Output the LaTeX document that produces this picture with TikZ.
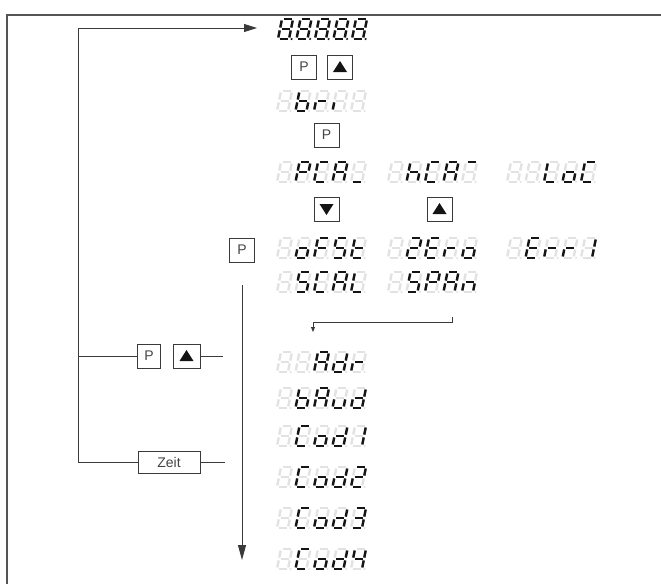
\documentclass[tikz,border=0pt]{standalone}
\usepackage{fontspec}
\setmainfont{Liberation Sans}
\usetikzlibrary{arrows.meta}
\definecolor{segonc}{HTML}{141414}
\definecolor{segoffc}{HTML}{E2E2E2}
\definecolor{linec}{HTML}{3A3A3A}
\definecolor{framec}{HTML}{555555}
\definecolor{txtc}{HTML}{444444}
\tikzset{
  sega/.style={insert path={(1.5,0)--(9.5,0)}},
  segb/.style={insert path={(11,1.5)--(11,8.6)}},
  segc/.style={insert path={(11,11.4)--(11,18.5)}},
  segd/.style={insert path={(1.5,20)--(9.5,20)}},
  sege/.style={insert path={(0,11.4)--(0,18.5)}},
  segf/.style={insert path={(0,1.5)--(0,8.6)}},
  segg/.style={insert path={(1.5,10)--(9.5,10)}},
  segz/.style={},
  segoffst/.style={draw=segoffc,line width=2.4pt},
  segonst/.style={draw=segonc,line width=2.4pt},
  conn/.style={draw=linec,line width=0.9pt},
  btn/.style={draw=linec,line width=0.8pt,minimum width=25pt,minimum height=24pt,inner sep=0pt,
    font=\fontsize{14}{16}\selectfont,text=txtc},
  upbtn/.style={btn,path picture={\fill[segonc,shift={(path picture bounding box.center)}] (-7,5)--(7,5)--(0,-6)--cycle;}},
  downbtn/.style={btn,path picture={\fill[segonc,shift={(path picture bounding box.center)}] (-7,-5)--(7,-5)--(0,6)--cycle;}},
}
\newcommand\sdigit[4]{%
  \begin{scope}[shift={(#1,#2)},xslant=0.2]
    \foreach \s in {a,b,c,d,e,f,g}{\draw[segoffst,seg\s];}
    \foreach \s in {#3}{\draw[segonst,seg\s];}
    \fill[#4] (13.6,20) circle (1.2);
  \end{scope}}
\newcommand\sdisp[8]{%
  \coordinate (#8) at (#1,#2);
  \sdigit{#1}{#2}{#3}{segoffc}%
  \sdigit{#1+18.5}{#2}{#4}{segoffc}%
  \sdigit{#1+37}{#2}{#5}{segoffc}%
  \sdigit{#1+55.5}{#2}{#6}{segoffc}%
  \sdigit{#1+74}{#2}{#7}{segoffc}}
\begin{document}
\begin{tikzpicture}[x=1pt,y=-1pt]
\useasboundingbox (0,0) rectangle (661,584);
% frame
\coordinate (frBL) at (7,584);
\coordinate (frTL) at (7,15);
\coordinate (frTR) at (661,15);
\draw[draw=framec,line width=1.2pt] (frBL) -- (frTL) -- (frTR);

% top display 8.8.8.8.8.
\coordinate (dtop) at (282,19);
\foreach \i in {0,1,2,3,4}{\sdigit{282+18.5*\i}{19}{a,b,c,d,e,f,g}{segonc}}

% buttons P up
\node[btn] (p1) at (304,67) {P};
\node[upbtn] (u1) at (340,67) {};

% bri
\sdisp{281}{91}{z}{c,d,e,f,g}{e,g}{e}{z}{dbri}

\node[btn] (p2) at (326.5,135) {P};

% row PCA / hCA / LoC
\sdisp{281}{162}{z}{a,b,e,f,g}{a,d,e,f}{a,b,c,e,f,g}{d}{dpca}
\sdisp{392}{162}{z}{c,e,f,g}{a,d,e,f}{a,b,c,e,f,g}{a}{dhca}
\sdisp{511}{162}{z}{z}{d,e,f}{c,d,e,g}{a,d,e,f}{dloc}

\node[downbtn] (dn) at (326.5,209) {};
\node[upbtn] (u2) at (439.5,209) {};

% row oFSt / 2Ero / Err1
\node[btn] (p3) at (242,250) {P};
\sdisp{281}{238}{z}{c,d,e,g}{a,e,f,g}{a,c,d,f,g}{d,e,f,g}{dofs}
\sdisp{392}{238}{z}{a,b,d,e,g}{a,d,e,f,g}{e,g}{c,d,e,g}{dzer}
\sdisp{511}{238}{z}{a,d,e,f,g}{e,g}{e,g}{b,c}{derr}

% row SCAL / SPAn
\sdisp{281}{272}{z}{a,c,d,f,g}{a,d,e,f}{a,b,c,e,f,g}{d,e,f}{dscal}
\sdisp{392}{272}{z}{a,c,d,f,g}{a,b,e,f,g}{a,b,c,e,f,g}{c,e,g}{dspan}

% lower list
\sdisp{281}{352}{z}{z}{a,b,c,e,f,g}{b,c,d,e,g}{e,g}{dadr}
\sdisp{281}{388}{z}{c,d,e,f,g}{a,b,c,e,f,g}{c,d,e}{b,c,d,e,g}{dbaud}
\sdisp{281}{426}{z}{a,d,e,f}{c,d,e,g}{b,c,d,e,g}{b,c}{dcod1}
\sdisp{281}{467}{z}{a,d,e,f}{c,d,e,g}{b,c,d,e,g}{a,b,d,e,g}{dcod2}
\sdisp{281}{508}{z}{a,d,e,f}{c,d,e,g}{b,c,d,e,g}{a,b,c,d,g}{dcod3}
\sdisp{281}{549}{z}{a,d,e,f}{c,d,e,g}{b,c,d,e,g}{b,c,f,g}{dcod4}

% connector SPAn -> Adr
\coordinate (spanEnd) at (452,317);
\coordinate (adrIn) at (313,332);
\draw[conn,-{Triangle[length=5pt,width=4pt]}] (spanEnd) -- ++(0,5.5) -| (adrIn);

% main down arrow
\coordinate (mainTop) at (242,285);
\coordinate (mainBot) at (242,560);
\draw[conn,-{Triangle[length=15pt,width=8pt]}] (mainTop) -- (mainBot);

% left loop
\coordinate (loopTop) at (78,28);
\coordinate (dispIn) at (257,28);
\coordinate (loopMid) at (78,356);
\coordinate (loopBot) at (78,462);
\node[btn,minimum width=23pt] (p4) at (149,356) {P};
\node[upbtn,minimum width=27pt] (u4) at (186.5,356) {};
\coordinate (u4End) at (223,356);
\node[btn,minimum width=62pt,minimum height=22pt] (zeit) at (169,462) {Zeit};
\coordinate (zeitEnd) at (225,462);
\draw[conn,-{Triangle[length=13pt,width=8pt]}] (loopBot) -- (loopTop) -- (dispIn);
\draw[conn] (loopBot) -- (zeit.west);
\draw[conn] (zeit.east) -- (zeitEnd);
\draw[conn] (loopMid) -- (p4.west);
\draw[conn] (u4.east) -- (u4End);
\end{tikzpicture}
\end{document}
